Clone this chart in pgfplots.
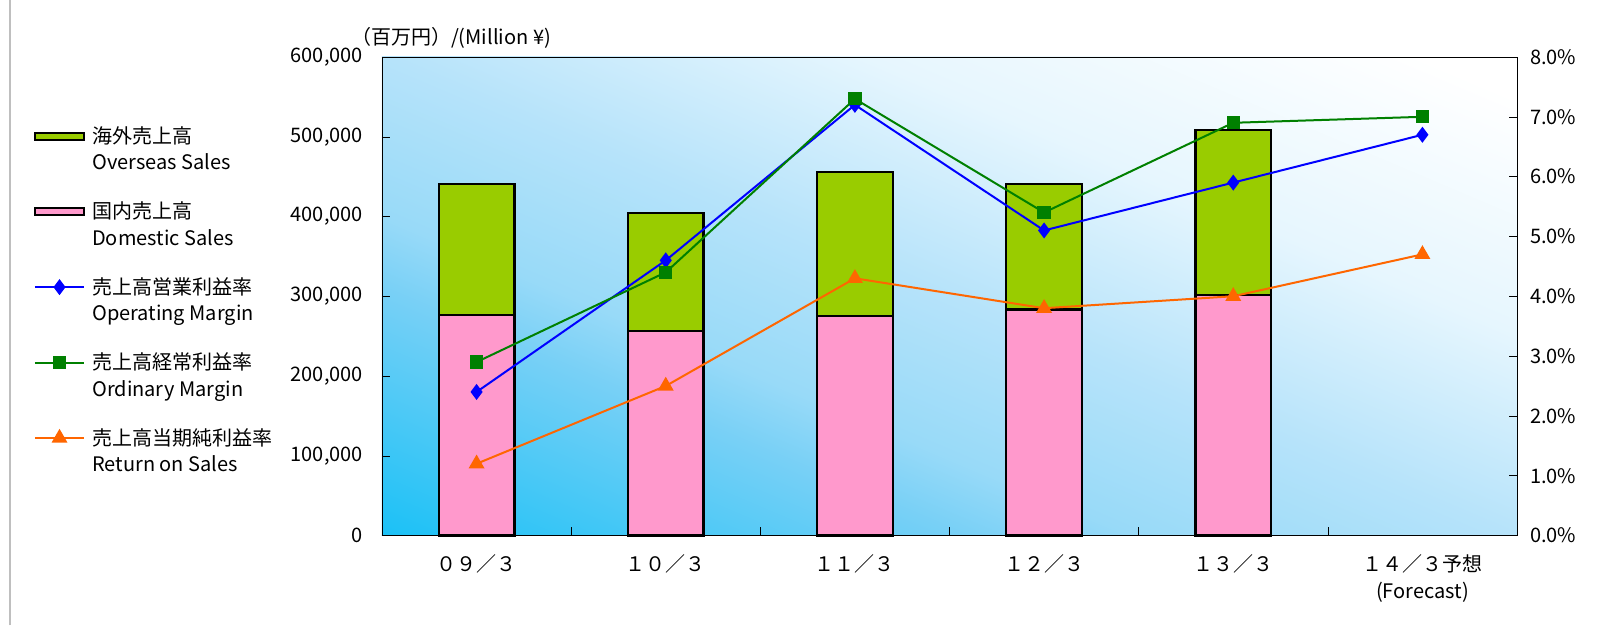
\documentclass[border=0pt]{standalone}
\usepackage{fontspec}
\setmainfont{Noto Sans CJK JP}
\usepackage{pgfplots}
\pgfplotsset{compat=1.18}
\pgfplotsset{/pgf/number format/assume math mode=true}
\pgfplotsset{
  patchlegend/.style={legend image code/.code={\draw[##1] (0pt,-1.8pt) rectangle (24.6pt,1.8pt);}},
  linelegend/.style={legend image code/.code={\draw[mark repeat=2, mark phase=2, ##1] plot coordinates {(0pt,0pt) (12.3pt,0pt) (24.6pt,0pt)};}},
}

\definecolor{ovs}{HTML}{99CC00}
\definecolor{dom}{HTML}{FF99CC}
\definecolor{opm}{HTML}{0000FF}
\definecolor{ordm}{HTML}{008000}
\definecolor{ros}{HTML}{FF6600}
\definecolor{bg0}{HTML}{1CC1F6}
\definecolor{bg1}{HTML}{78D0F6}
\definecolor{bg2}{HTML}{98DAF8}
\definecolor{bg3}{HTML}{B6E3FA}
\definecolor{bg4}{HTML}{E6F6FE}
\definecolor{bg5}{HTML}{FFFFFF}
\pgfdeclareverticalshading{bgshade}{100bp}{color(0bp)=(bg0); color(32.2bp)=(bg0);
  color(41.3bp)=(bg1); color(44bp)=(bg2); color(50bp)=(bg3); color(57.6bp)=(bg4);
  color(66.4bp)=(bg5); color(100bp)=(bg5)}

\begin{document}
\begin{tikzpicture}[font=\fontsize{10}{13.3}\selectfont]
\path[use as bounding box] (-191pt,-45pt) rectangle (614.5pt,267.75pt);
\draw[gray!50, line width=0.8pt] (-186pt,-45pt) -- (-186pt,267.75pt);

% plot area background
\begin{scope}
  \clip (0,0) rectangle (567.5pt,239.25pt);
  \shade[shading=bgshade, shading angle=-23] (283.75pt,119.625pt) ++(-310pt,-310pt) rectangle ++(620pt,620pt);
\end{scope}

% sales (left axis)
\begin{axis}[
  at={(0,0)}, anchor=south west,
  scale only axis, width=567.5pt, height=239.25pt,
  xmin=-0.5, xmax=5.5, ymin=0, ymax=600000,
  clip=false,
  ytick={0,100000,...,600000},
  scaled y ticks=false,
  y tick label style={/pgf/number format/fixed, /pgf/number format/1000 sep={,}, xshift=-6pt},
  xtick={0,...,5},
  xticklabels={０９／３, １０／３, １１／３, １２／３, １３／３, {１４／３予想\\(Forecast)}},
  x tick label style={align=center, yshift=-6pt},
  minor xtick={0.5,1.5,...,4.5},
  xtick pos=left, ytick pos=left,
  tick align=inside,
  major x tick style={draw=none},
  major tick length=4pt, minor tick length=4pt,
  tick style={black},
  axis line style={black},
  ybar stacked, bar width=0.4,
]
\addplot[fill=dom, draw=black, line width=1.1pt] coordinates {
  (0,276800) (1,256200) (2,275500) (3,283300) (4,301300)};
\addplot[fill=ovs, draw=black, line width=1.1pt] coordinates {
  (0,163500) (1,148100) (2,180300) (3,157000) (4,207300)};
\node[anchor=south west, xshift=-19pt, yshift=1pt] at (rel axis cs:0,1) {（百万円）/(Million ¥)};
\end{axis}

% margins (right axis)
\begin{axis}[
  at={(0,0)}, anchor=south west,
  scale only axis, width=567.5pt, height=239.25pt,
  xmin=-0.5, xmax=5.5, ymin=0, ymax=8,
  axis y line*=right, axis x line=none,
  ytick={0,...,8},
  yticklabel={\pgfmathprintnumber[fixed,fixed zerofill,precision=1]{\tick}\%},
  y tick label style={xshift=3pt},
  tick align=inside, major tick length=4pt, tick style={black},
  axis line style={black},
  legend style={at={(axis description cs:-0.3124,0.864)}, anchor=north west,
    draw=none, fill=none, row sep=14.5pt,
    nodes={align=left, inner ysep=0pt, inner xsep=1pt},
    /tikz/every odd column/.append style={column sep=2.5pt}},
  legend cell align=left,
  every legend image post/.style={yshift=6.7pt},
  linelegend,
]
\addlegendimage{fill=ovs, draw=black, line width=1.1pt, patchlegend}
\addlegendentry{海外売上高\\Overseas Sales}
\addlegendimage{fill=dom, draw=black, line width=1.1pt, patchlegend}
\addlegendentry{国内売上高\\Domestic Sales}

\addplot[color=opm, line width=1pt, mark=diamond*, mark size=3.2pt] coordinates {
  (0,2.4) (1,4.6) (2,7.2) (3,5.1) (4,5.9) (5,6.7)};
\addlegendentry{売上高営業利益率\\Operating Margin}
\addplot[color=ordm, line width=1pt, mark=square*, mark size=2.8pt] coordinates {
  (0,2.9) (1,4.4) (2,7.3) (3,5.4) (4,6.9) (5,7.0)};
\addlegendentry{売上高経常利益率\\Ordinary Margin}
\addplot[color=ros, line width=1pt, mark=triangle*, mark size=3.6pt] coordinates {
  (0,1.2) (1,2.5) (2,4.3) (3,3.8) (4,4.0) (5,4.7)};
\addlegendentry{売上高当期純利益率\\Return on Sales}
\end{axis}
\end{tikzpicture}
\end{document}
